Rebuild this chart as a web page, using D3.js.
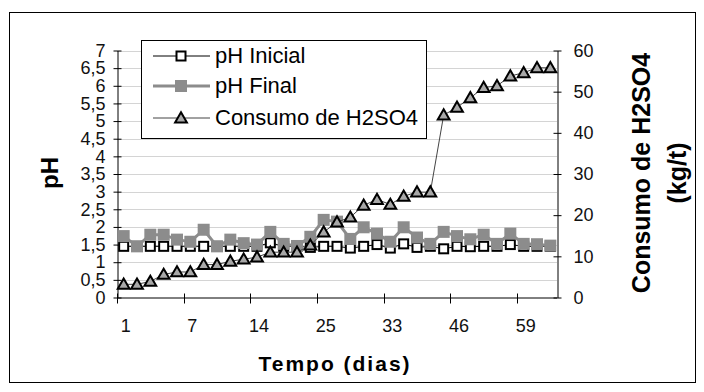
<!DOCTYPE html>
<html>
<head>
<meta charset="utf-8">
<script src="https://cdn.jsdelivr.net/npm/d3@7"></script>
<style>
  body { margin: 0; background: #fff; }
  svg { display: block; font-family: Arial, "Liberation Sans", sans-serif; }
</style>
</head>
<body>
<svg id="chart" width="704" height="392"></svg>
<script>
// category labels (only every 5th one shows on the axis)
var dias = [1, 2, 3, 4, 5, 7, 8, 9, 10, 11, 14, 15, 16, 18, 22, 25, 26, 28, 29, 31,
            33, 34, 35, 36, 39, 46, 47, 49, 51, 53, 59, 61, 63];
var phInicial = [1.45, 1.45, 1.45, 1.45, 1.45, 1.45, 1.45, 1.45, 1.45, 1.45, 1.45, 1.55, 1.45, 1.45, 1.42, 1.45, 1.45,
                 1.4, 1.45, 1.5, 1.4, 1.52, 1.42, 1.45, 1.38, 1.45, 1.44, 1.45, 1.45, 1.5, 1.45, 1.45, 1.45];
var phFinal = [1.74, 1.45, 1.78, 1.78, 1.64, 1.58, 1.92, 1.45, 1.64, 1.54, 1.5, 1.86, 1.52, 1.46, 1.72, 2.2, 2.15,
               1.66, 1.99, 1.81, 1.58, 1.99, 1.7, 1.52, 1.86, 1.74, 1.65, 1.78, 1.52, 1.81, 1.52, 1.51, 1.47];
var consumo = [3.2, 3.2, 3.9, 5.6, 6.2, 6.2, 8.0, 8.0, 8.8, 9.3, 9.8, 11.0, 11.0, 11.0, 12.7, 15.9, 18.3,
               19.5, 22.4, 23.8, 22.6, 24.6, 25.6, 25.6, 44.3, 46.2, 48.5, 51.0, 51.4, 53.8, 54.6, 55.8, 55.8];
var phTicks = [0, 0.5, 1, 1.5, 2, 2.5, 3, 3.5, 4, 4.5, 5, 5.5, 6, 6.5, 7];
var consumoTicks = [0, 10, 20, 30, 40, 50, 60];
var seriesNames = ["pH Inicial", "pH Final", "Consumo de H2SO4"];

var GRAY = "#8c8c8c";
var svg = d3.select("#chart");

// note: "top" is taken by window.top, so plotTop
var plotLeft = 117, plotRight = 557, plotTop = 50.5, plotBottom = 297.5;

var x = d3.scaleBand().domain(d3.range(dias.length)).range([plotLeft, plotRight]);
var yPh = d3.scaleLinear().domain([0, 7]).range([plotBottom, plotTop]);
var yC = d3.scaleLinear().domain([0, 60]).range([plotBottom, plotTop]);

function cx(i) { return x(i) + x.bandwidth() / 2; }
function fmt(v) { return String(v).replace(".", ","); }

// outer frame
svg.append("rect")
    .attr("x", 9.5).attr("y", 12.5)
    .attr("width", 686).attr("height", 370)
    .attr("fill", "#fff").attr("stroke", "#000");

// gridlines on pH steps
svg.append("g").selectAll("line")
    .data(phTicks.slice(1))
    .enter().append("line")
    .attr("x1", plotLeft).attr("x2", plotRight)
    .attr("y1", function(d) { return Math.round(yPh(d)) + 0.5; })
    .attr("y2", function(d) { return Math.round(yPh(d)) + 0.5; })
    .attr("stroke", "#d4d4d4");

// left axis
var gl = svg.append("g").attr("transform", "translate(" + (plotLeft + 0.5) + ",0)")
    .call(d3.axisLeft(yPh).tickValues(phTicks).tickFormat(fmt).tickSizeInner(4).tickSizeOuter(0).tickPadding(8));
gl.selectAll(".tick line").attr("x2", 4).attr("x1", -4);
gl.selectAll("text").style("font-size", "18px").attr("fill", "#111");

// right axis
var gr = svg.append("g").attr("transform", "translate(" + (plotRight + 0.5) + ",0)")
    .call(d3.axisRight(yC).tickValues(consumoTicks).tickSizeInner(4).tickSizeOuter(0).tickPadding(12));
gr.selectAll(".tick line").attr("x1", -4).attr("x2", 4);
gr.selectAll("text").style("font-size", "18px").attr("fill", "#111");

// bottom axis, a tick every 5 categories on the band edges
var edgeIdx = [0, 5, 10, 15, 20, 25, 30];
var gx = svg.append("g");
gx.append("line")
    .attr("x1", plotLeft).attr("x2", plotRight)
    .attr("y1", plotBottom + 0.5).attr("y2", plotBottom + 0.5)
    .attr("stroke", "#000");
gx.selectAll(".xt").data(edgeIdx)
    .enter().append("line")
    .attr("class", "xt")
    .attr("x1", function(i) { return Math.round(x(i)) + 0.5; })
    .attr("x2", function(i) { return Math.round(x(i)) + 0.5; })
    .attr("y1", plotBottom - 4).attr("y2", plotBottom + 6)
    .attr("stroke", "#000");
gx.selectAll(".xl").data(edgeIdx)
    .enter().append("text")
    .attr("class", "xl")
    .attr("x", function(i) { return cx(i) + 2; })
    .attr("y", 332)
    .attr("text-anchor", "middle")
    .style("font-size", "18px")
    .attr("fill", "#111")
    .text(function(i) { return dias[i]; });

// titles
svg.append("text")
    .attr("x", 335).attr("y", 371)
    .attr("text-anchor", "middle")
    .style("font-size", "21px").style("font-weight", "bold").style("letter-spacing", "2px")
    .text("Tempo (dias)");

svg.append("text")
    .attr("transform", "translate(58,173) rotate(-90)")
    .attr("text-anchor", "middle")
    .style("font-size", "24px").style("font-weight", "bold")
    .text("pH");

var rt = svg.append("text")
    .attr("transform", "translate(650,173) rotate(-90)")
    .attr("text-anchor", "middle")
    .style("font-size", "25px").style("font-weight", "bold");
rt.append("tspan").attr("x", 0).attr("dy", 0).text("Consumo de H2SO4");
rt.append("tspan").attr("x", 0).attr("dy", 36).text("(kg/t)");

// series
var linePh = d3.line().x(function(d, i) { return cx(i); }).y(function(d) { return yPh(d); });
var lineC = d3.line().x(function(d, i) { return cx(i); }).y(function(d) { return yC(d); });

svg.append("path").datum(phInicial)
    .attr("d", linePh).attr("fill", "none").attr("stroke", "#000").attr("stroke-width", 1);
svg.append("g").selectAll("rect").data(phInicial)
    .enter().append("rect")
    .attr("x", function(d, i) { return cx(i) - 4.5; })
    .attr("y", function(d) { return yPh(d) - 4.5; })
    .attr("width", 9).attr("height", 9)
    .attr("fill", "#fff").attr("stroke", "#000").attr("stroke-width", 2);

svg.append("path").datum(phFinal)
    .attr("d", linePh).attr("fill", "none").attr("stroke", GRAY).attr("stroke-width", 3);
svg.append("g").selectAll("rect").data(phFinal)
    .enter().append("rect")
    .attr("x", function(d, i) { return cx(i) - 6; })
    .attr("y", function(d) { return yPh(d) - 6; })
    .attr("width", 12).attr("height", 12)
    .attr("fill", GRAY);

svg.append("path").datum(consumo)
    .attr("d", lineC).attr("fill", "none").attr("stroke", "#444").attr("stroke-width", 1);

var tri = d3.symbol().type(d3.symbolTriangle).size(60);
svg.append("g").selectAll("path").data(consumo)
    .enter().append("path")
    .attr("d", tri)
    .attr("transform", function(d, i) { return "translate(" + cx(i) + "," + (yC(d) + 1) + ")"; })
    .attr("fill", "#a8a8a8").attr("stroke", "#000").attr("stroke-width", 2);

// legend
var lg = svg.append("g");
lg.append("rect")
    .attr("x", 141.5).attr("y", 40.5).attr("width", 285).attr("height", 98)
    .attr("fill", "#fff").attr("stroke", "#000");
var rows = [56, 86, 118];
rows.forEach(function(ry, k) {
    lg.append("line")
        .attr("x1", 153).attr("x2", 210).attr("y1", ry).attr("y2", ry)
        .attr("stroke", k == 1 ? GRAY : (k == 2 ? "#444" : "#000"))
        .attr("stroke-width", k == 1 ? 3 : 1);
    if (k == 0) {
        lg.append("rect").attr("x", 176.5).attr("y", ry - 4.5).attr("width", 9).attr("height", 9)
            .attr("fill", "#fff").attr("stroke", "#000").attr("stroke-width", 2);
    } else if (k == 1) {
        lg.append("rect").attr("x", 175).attr("y", ry - 6).attr("width", 12).attr("height", 12)
            .attr("fill", GRAY);
    } else {
        lg.append("path").attr("d", tri)
            .attr("transform", "translate(181," + (ry + 1) + ")")
            .attr("fill", "#a8a8a8").attr("stroke", "#000").attr("stroke-width", 2);
    }
    lg.append("text")
        .attr("x", 215).attr("y", ry + 7)
        .style("font-size", "22px")
        .text(seriesNames[k]);
});
</script>
</body>
</html>
